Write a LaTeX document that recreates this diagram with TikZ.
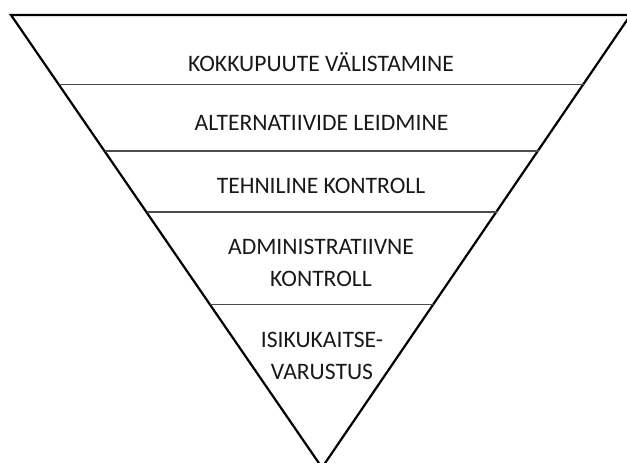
\documentclass[tikz,border=0pt]{standalone}
\usepackage{fontspec}
\setmainfont{Carlito}
\usetikzlibrary{calc}
\begin{document}
\begin{tikzpicture}[x=1pt,y=-1pt,
  edge/.style={line width=2.2pt,black,line join=miter},
  divider/.style={line width=1.6pt,black!70},
  label/.style={align=center,inner sep=0pt,font=\fontsize{23.6}{31.5}\selectfont,text=black!90}]
\useasboundingbox (0,0) rectangle (627,463);
\clip (0,0) rectangle (627,463);
\coordinate (tl) at (11,15);
\coordinate (tr) at (630.5,15);
\coordinate (ap) at (322,467.6);
\draw[edge] (tl) -- (tr) -- (ap) -- cycle;
\draw[divider] (59,84.3) -- (583.5,84.3);
\draw[divider] (104.5,150.7) -- (538.5,150.7);
\draw[divider] (146.5,211.7) -- (497,211.7);
\draw[divider] (210,304.3) -- (434,304.3);
\node[label] (l1) at (321,62) {KOKKUPUUTE VÄLISTAMINE};
\node[label] (l2) at (321.5,122.5) {ALTERNATIIVIDE LEIDMINE};
\node[label] (l3) at (321,185.5) {TEHNILINE KONTROLL};
\node[label] (l4) at (321,263) {ADMINISTRATIIVNE\\KONTROLL};
\node[label] (l5) at (322,356) {ISIKUKAITSE-\\VARUSTUS};
\end{tikzpicture}
\end{document}
